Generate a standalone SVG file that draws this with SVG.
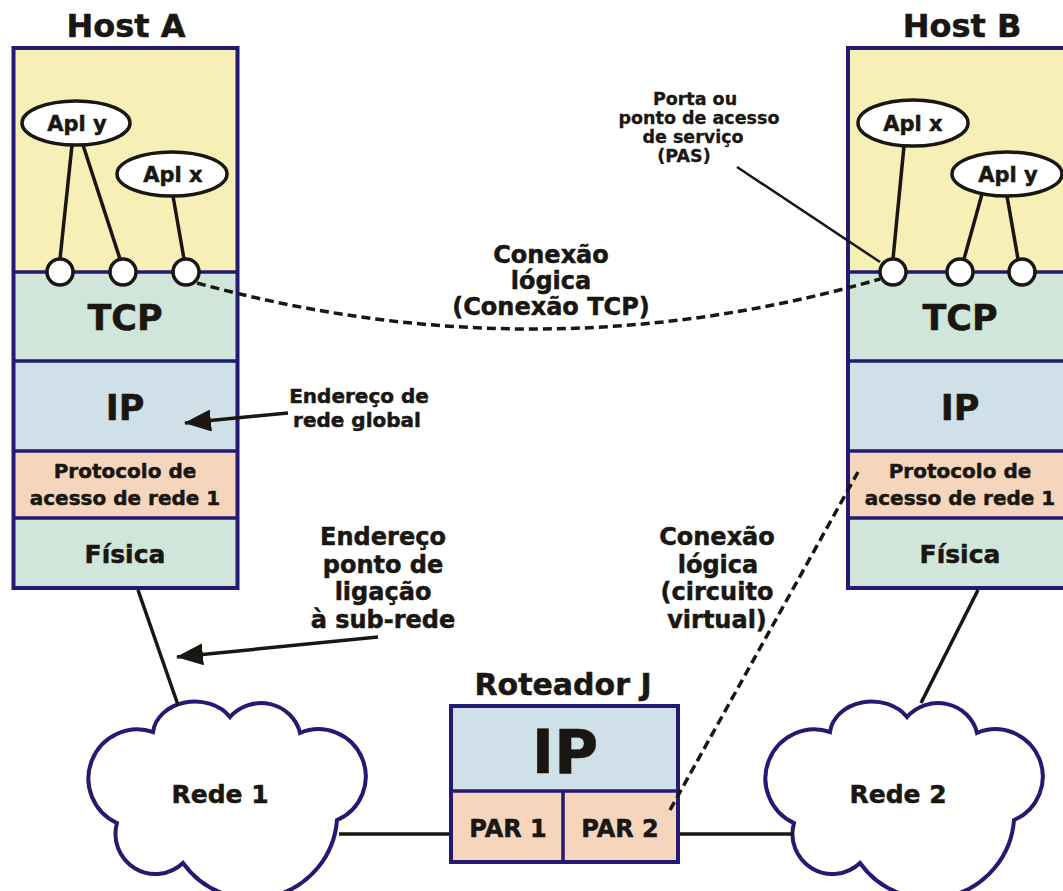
<svg xmlns="http://www.w3.org/2000/svg" width="1063" height="891" viewBox="0 0 1063 891">
<style>
text{font-family:"DejaVu Sans","Liberation Sans",sans-serif;font-weight:bold;fill:#1a1712;stroke:#1a1712;stroke-width:0.5;text-anchor:middle}
.box{fill:none;stroke:#231a73;stroke-width:4}
.sep{stroke:#231a73;stroke-width:3.5}
.app{fill:#f6f0b6}.tcp{fill:#d0e6da}.ip{fill:#d0e0e8}.nap{fill:#f5d6bc}.fis{fill:#d0e6da}
.ell{fill:#fff;stroke:#1a1712;stroke-width:3.5}
.port{fill:#fff;stroke:#1a1712;stroke-width:3.5}
.ln{stroke:#1a1712;stroke-width:3.5;fill:none}
.thin{stroke:#1a1712;stroke-width:2.5;fill:none}
.dash{stroke:#1a1712;stroke-width:3.5;fill:none;stroke-dasharray:9 5}
.cloud{fill:#fff;stroke:#231a73;stroke-width:4}
.big{font-size:35px}.lay{font-size:20px}.fs{font-size:25px}.apl{font-size:21px}
.lbl{font-size:24px}.sm{font-size:17.5px;stroke-width:0.3}.mid{font-size:20px}
</style>
<defs>
<path id="cloudShape" d="M153,732 A42,34 0 0 1 230,717 A40,38 0 0 1 300,733 A47,47 0 0 1 337,820 A85,85 0 0 1 183,863 A40,40 0 0 1 117,823 A49,49 0 0 1 153,732 Z"/>
<marker id="ah" viewBox="0 0 27 22" refX="26" refY="11" markerWidth="27" markerHeight="22" markerUnits="userSpaceOnUse" orient="auto"><path d="M0,0 L27,11 L0,22 Z" fill="#1a1712"/></marker>
</defs>

<g id="hostA">
<text x="126" y="37" style="font-size:32px">Host A</text>
<rect class="app" x="13.5" y="48" width="224" height="224"/>
<rect class="tcp" x="13.5" y="272" width="224" height="89"/>
<rect class="ip" x="13.5" y="361" width="224" height="90"/>
<rect class="nap" x="13.5" y="451" width="224" height="67"/>
<rect class="fis" x="13.5" y="518" width="224" height="70"/>
<line class="sep" x1="13.5" y1="272" x2="237.5" y2="272"/>
<line class="sep" x1="13.5" y1="361" x2="237.5" y2="361"/>
<line class="sep" x1="13.5" y1="451" x2="237.5" y2="451"/>
<line class="sep" x1="13.5" y1="518" x2="237.5" y2="518"/>
<rect class="box" x="13.5" y="48" width="224" height="540"/>
<line class="ln" x1="72" y1="145" x2="60" y2="259"/>
<line class="ln" x1="83" y1="145" x2="120" y2="259"/>
<line class="ln" x1="173" y1="196" x2="184" y2="259"/>
<ellipse class="ell" cx="76" cy="123" rx="54" ry="22"/>
<text class="apl" x="77" y="131">Apl y</text>
<ellipse class="ell" cx="172" cy="174" rx="55" ry="22"/>
<text class="apl" x="173" y="182">Apl x</text>
<circle class="port" cx="60" cy="272" r="13"/>
<circle class="port" cx="123" cy="272" r="13"/>
<circle class="port" cx="186" cy="272" r="13"/>
<text class="big" x="125" y="330">TCP</text>
<text class="big" x="125" y="420">IP</text>
<text class="lay" x="125" y="478">Protocolo de</text>
<text class="lay" x="125" y="505">acesso de rede 1</text>
<text class="fs" x="125" y="563">Física</text>
</g>

<g id="hostB">
<text x="962" y="37" style="font-size:32px">Host B</text>
<rect class="app" x="848" y="48" width="224" height="224"/>
<rect class="tcp" x="848" y="272" width="224" height="89"/>
<rect class="ip" x="848" y="361" width="224" height="90"/>
<rect class="nap" x="848" y="451" width="224" height="67"/>
<rect class="fis" x="848" y="518" width="224" height="70"/>
<line class="sep" x1="848" y1="272" x2="1072" y2="272"/>
<line class="sep" x1="848" y1="361" x2="1072" y2="361"/>
<line class="sep" x1="848" y1="451" x2="1072" y2="451"/>
<line class="sep" x1="848" y1="518" x2="1072" y2="518"/>
<rect class="box" x="848" y="48" width="224" height="540"/>
<line class="ln" x1="904" y1="146" x2="893" y2="259"/>
<line class="ln" x1="982" y1="194" x2="964" y2="259"/>
<line class="ln" x1="1007" y1="196" x2="1018" y2="259"/>
<ellipse class="ell" cx="913" cy="123" rx="55" ry="23"/>
<text class="apl" x="913" y="131">Apl x</text>
<ellipse class="ell" cx="1007" cy="174" rx="55" ry="22"/>
<text class="apl" x="1008" y="182">Apl y</text>
<circle class="port" cx="893" cy="272" r="13"/>
<circle class="port" cx="960" cy="272" r="13"/>
<circle class="port" cx="1022" cy="272" r="13"/>
<text class="big" x="960" y="330">TCP</text>
<text class="big" x="960" y="420">IP</text>
<text class="lay" x="960" y="478">Protocolo de</text>
<text class="lay" x="960" y="505">acesso de rede 1</text>
<text class="fs" x="960" y="563">Física</text>
</g>

<g id="router">
<text x="563" y="695" style="font-size:30px">Roteador J</text>
<rect class="ip" x="451" y="706" width="227" height="85"/>
<rect class="nap" x="451" y="791" width="112" height="71"/>
<rect class="nap" x="563" y="791" width="115" height="71"/>
<line class="sep" x1="451" y1="791" x2="678" y2="791"/>
<line class="sep" x1="563" y1="791" x2="563" y2="862"/>
<rect class="box" x="451" y="706" width="227" height="156"/>
<text x="565" y="773" style="font-size:60px">IP</text>
<text x="508" y="837" style="font-size:24px">PAR 1</text>
<text x="620" y="837" style="font-size:24px">PAR 2</text>
</g>

<g id="rede1">
<use href="#cloudShape" class="cloud"/>
<text x="220" y="803" class="fs">Rede 1</text>
</g>
<g id="rede2">
<use href="#cloudShape" class="cloud" transform="translate(677,0)"/>
<text x="898" y="803" class="fs">Rede 2</text>
</g>

<g id="connectors">
<line class="ln" x1="138" y1="590" x2="178" y2="705"/>
<line class="ln" x1="978" y1="590" x2="921" y2="703"/>
<line class="ln" x1="339" y1="834" x2="449" y2="834"/>
<line class="ln" x1="680" y1="834" x2="793" y2="834"/>
<path class="dash" d="M197,283 Q540,377 880,279"/>
<path class="dash" d="M670,810 L858,472"/>
<line class="thin" x1="737" y1="167" x2="880" y2="262"/>
<line class="ln" x1="288" y1="413" x2="185" y2="423" marker-end="url(#ah)"/>
<line class="ln" x1="378" y1="637" x2="177" y2="657" marker-end="url(#ah)"/>
</g>

<g id="labelTCP">
<text class="lbl" x="551" y="263">Conexão</text>
<text class="lbl" x="551" y="289">lógica</text>
<text class="lbl" x="551" y="315">(Conexão TCP)</text>
</g>
<g id="labelPAS">
<text class="sm" x="695" y="105">Porta ou</text>
<text class="sm" x="699" y="124">ponto de acesso</text>
<text class="sm" x="693" y="143">de serviço</text>
<text class="sm" x="684" y="162">(PAS)</text>
</g>
<g id="labelGlobal">
<text class="mid" x="359" y="403">Endereço de</text>
<text class="mid" x="357" y="427">rede global</text>
</g>
<g id="labelSub">
<text class="lbl" x="383" y="545">Endereço</text>
<text class="lbl" x="383" y="573">ponto de</text>
<text class="lbl" x="383" y="600">ligação</text>
<text class="lbl" x="383" y="628">à sub-rede</text>
</g>
<g id="labelVC">
<text class="lbl" x="717" y="545">Conexão</text>
<text class="lbl" x="718" y="573">lógica</text>
<text class="lbl" x="717" y="600">(circuito</text>
<text class="lbl" x="717" y="628">virtual)</text>
</g>
</svg>
